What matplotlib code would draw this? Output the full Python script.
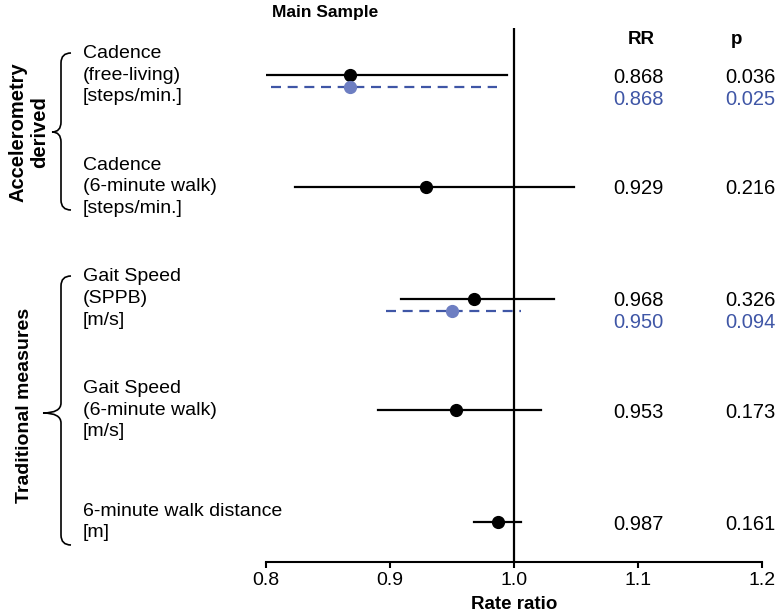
import numpy as np
import matplotlib
matplotlib.use('Agg')
import matplotlib.pyplot as plt
from matplotlib.path import Path
from matplotlib.patches import PathPatch
from matplotlib.transforms import blended_transform_factory

plt.rcParams['font.family'] = ['Liberation Sans', 'DejaVu Sans']

# main sample estimates
labels = [
    "Cadence\n(free-living)\n[steps/min.]",
    "Cadence\n(6-minute walk)\n[steps/min.]",
    "Gait Speed\n(SPPB)\n[m/s]",
    "Gait Speed\n(6-minute walk)\n[m/s]",
    "6-minute walk distance\n[m]",
]
rr = [0.868, 0.929, 0.968, 0.953, 0.987]
ci_lo = [0.756, 0.823, 0.909, 0.890, 0.968]
ci_hi = [0.994, 1.048, 1.032, 1.022, 1.006]
pvals = ["0.036", "0.216", "0.326", "0.173", "0.161"]

# sensitivity estimates (blue, dashed) for rows 0 and 2
sens_rows = [0, 2]
sens_rr = [0.868, 0.950]
sens_lo = [0.764, 0.897]
sens_hi = [0.986, 1.006]
sens_p = ["0.025", "0.094"]

groups = ["Accelerometry\nderived", "Traditional measures"]

xticks = [0.8, 0.9, 1.0, 1.1, 1.2]

W, H = 776, 616
fig = plt.figure(figsize=(W / 100, H / 100), dpi=100)

def fx(px):
    return px / W

def fy(py):
    return 1 - py / H

ax_l, ax_r, ax_t, ax_b = 266, 762, 28, 562
ax = fig.add_axes([fx(ax_l), fy(ax_b), fx(ax_r) - fx(ax_l), fy(ax_t) - fy(ax_b)])

row_step = 111.75
row0 = 75
ax.set_ylim((ax_b - row0) / row_step, (ax_t - row0) / row_step)
ax.set_xlim(0.8, 1.2)

blue_line = '#3f56a6'
blue_dot = '#6d7ec2'
blue_txt = '#3f56a6'
off = 0.11        # dashed line offset (rows)
txt_off = 0.195   # blue text offset (rows)
fs = 14

ypos = np.arange(len(rr))
for i in range(len(rr)):
    ax.plot([ci_lo[i], ci_hi[i]], [ypos[i], ypos[i]], color='black', lw=1.6, zorder=3)
    ax.plot(rr[i], ypos[i], 'o', color='black', ms=8.5, zorder=4)

for j, r in enumerate(sens_rows):
    y = ypos[r] + off
    ax.plot([sens_lo[j], sens_hi[j]], [y, y], color=blue_line, lw=1.6,
            dashes=(4.5, 3), zorder=3)
    ax.plot(sens_rr[j], y, 'o', color=blue_dot, ms=8.5, zorder=4)

ax.axvline(1.0, color='black', lw=1.6, zorder=2)

for s in ['top', 'right', 'left']:
    ax.spines[s].set_visible(False)
ax.spines['bottom'].set_linewidth(1.5)
ax.set_yticks([])
ax.set_xticks(xticks)
ax.set_xticklabels([f"{t:.1f}" for t in xticks], fontsize=fs)
ax.tick_params(axis='x', direction='out', length=4, width=1.5, pad=3)
ax.set_xlabel("Rate ratio", fontsize=13.5, fontweight='bold', labelpad=5)

# row labels and RR / p columns
tr = blended_transform_factory(fig.transFigure, ax.transData)
for i in range(len(rr)):
    ax.text(fx(83), ypos[i], labels[i], transform=tr, ha='left', va='center',
            fontsize=fs, linespacing=1.36)
    ax.text(fx(638), ypos[i] + 0.02, f"{rr[i]:.3f}", transform=tr, ha='center',
            va='center', fontsize=14.5)
    ax.text(fx(750), ypos[i] + 0.02, pvals[i], transform=tr, ha='center',
            va='center', fontsize=14.5)
for j, r in enumerate(sens_rows):
    y = ypos[r] + txt_off + 0.02
    ax.text(fx(638), y, f"{sens_rr[j]:.3f}", transform=tr, ha='center',
            va='center', fontsize=14.5, color=blue_txt)
    ax.text(fx(750), y, sens_p[j], transform=tr, ha='center',
            va='center', fontsize=14.5, color=blue_txt)

fig.text(fx(641), fy(40), "RR", ha='center', va='center', fontsize=13.5, fontweight='bold')
fig.text(fx(737), fy(40), "p", ha='center', va='center', fontsize=13.5, fontweight='bold')
fig.text(fx(325), fy(12), "Main Sample", ha='center', va='center', fontsize=12.5,
         fontweight='bold')

# group labels
fig.text(fx(29), fy(132), groups[0], ha='center', va='center', rotation=90,
         fontsize=14.5, fontweight='bold', linespacing=1.15)
fig.text(fx(25), fy(405), groups[1], ha='center', va='center', rotation=90,
         fontsize=14, fontweight='bold')

def brace(x_end, x_body, x_tip, y0, y1, ymid):
    r = 10
    verts = [
        (x_end, y0),
        (x_body, y0), (x_body, y0 + r),
        (x_body, ymid - r),
        (x_body, ymid), (x_tip, ymid),
        (x_body, ymid), (x_body, ymid + r),
        (x_body, y1 - r),
        (x_body, y1), (x_end, y1),
    ]
    codes = [Path.MOVETO,
             Path.CURVE3, Path.CURVE3,
             Path.LINETO,
             Path.CURVE3, Path.CURVE3,
             Path.CURVE3, Path.CURVE3,
             Path.LINETO,
             Path.CURVE3, Path.CURVE3]
    verts = [(fx(x), fy(y)) for x, y in verts]
    patch = PathPatch(Path(verts, codes), transform=fig.transFigure,
                      facecolor='none', edgecolor='black', lw=1.2)
    fig.patches.append(patch)

brace(71, 61, 52, 53, 210, 132)
brace(71, 61, 43, 276, 545, 413)

fig.savefig("out.png", dpi=100)
